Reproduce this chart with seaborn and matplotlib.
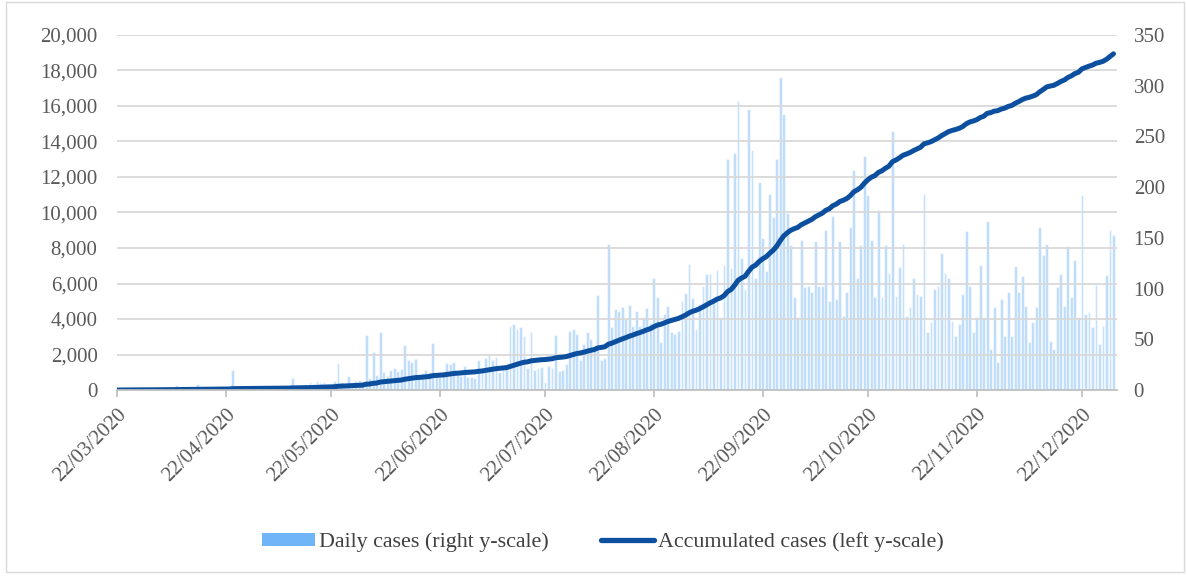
import numpy as np
import pandas as pd
import matplotlib
matplotlib.use("Agg")
import matplotlib.pyplot as plt
from matplotlib.patches import Patch, Rectangle
from matplotlib.lines import Line2D
from matplotlib.ticker import MultipleLocator, FuncFormatter
import seaborn as sns

# daily cases, one value per day (right y-scale)
mar = [0, 1, 0, 1, 0, 2, 1, 0, 2, 1]
apr = [1, 2, 1, 2, 1, 3, 2, 5, 1, 2, 1, 2, 3, 6, 2, 1, 2, 1, 3, 2,
       2, 1, 3, 20, 2, 1, 3, 1, 2, 3]
may = [1, 2, 1, 3, 2, 1, 2, 1, 3, 2, 12, 2, 3, 1, 2, 8, 6, 9, 7, 8,
       6, 4, 9, 27, 8, 6, 14, 7, 9, 10, 8]
jun = [54, 12, 37, 15, 57, 18, 14, 20, 22, 19, 21, 44, 30, 28, 31, 12, 17, 20, 18, 46,
       14, 13, 16, 27, 26, 28, 15, 14, 24, 13]
jul = [13, 12, 30, 18, 32, 35, 30, 33, 18, 20, 22, 63, 65, 60, 62, 53, 22, 57, 20, 22,
       23, 8, 24, 22, 54, 19, 20, 26, 58, 60, 55]
aug = [30, 45, 57, 50, 40, 94, 30, 32, 144, 62, 80, 78, 82, 70, 84, 63, 78, 63, 72, 81,
       66, 110, 92, 47, 75, 83, 57, 55, 58, 88, 96]
sep = [124, 91, 60, 85, 103, 114, 114, 92, 118, 72, 123, 228, 120, 234, 285, 130, 100, 277, 237, 110,
       205, 150, 117, 193, 171, 228, 309, 272, 175, 143]
oct_ = [92, 72, 148, 102, 103, 97, 147, 103, 103, 158, 88, 172, 90, 147, 73, 97, 161, 217, 110, 143,
        231, 192, 148, 92, 177, 92, 143, 115, 255, 93, 121]
nov = [144, 73, 82, 110, 95, 93, 193, 57, 67, 100, 103, 135, 115, 110, 68, 53, 65, 95, 157, 103,
       57, 72, 123, 72, 167, 40, 82, 28, 90, 53]
dec = [97, 53, 122, 97, 112, 83, 47, 67, 82, 161, 133, 144, 48, 40, 102, 114, 83, 142, 92, 128,
       72, 192, 75, 77, 62, 104, 45, 63, 113, 158, 153]

BAR_COLOR = "#74B7F8"
LINE_COLOR = "#0D4F9F"
TEXT_COLOR = "#595959"

dates = pd.date_range("2020-03-22", "2020-12-31", freq="D")
daily = mar + apr + may + jun + jul + aug + sep + oct_ + nov + dec
df = pd.DataFrame({"day": np.arange(len(dates)), "date": dates, "daily": daily})
df["accumulated"] = df["daily"].cumsum()

sns.set_theme(style="white")
plt.rcParams["font.family"] = ["Liberation Serif", "DejaVu Serif"]

fig = plt.figure(figsize=(11.87, 5.76), dpi=100)
ax = fig.add_axes([117 / 1187, 1 - 390 / 576, 1000 / 1187, 355 / 576])
ax2 = ax.twinx()

sns.barplot(data=df, x="day", y="daily", native_scale=True, width=0.8,
            color=BAR_COLOR, saturation=1, alpha=0.5, errorbar=None, ax=ax2)
sns.lineplot(data=df, x="day", y="accumulated", color=LINE_COLOR,
             linewidth=3.6, ax=ax)

# line above the bars
ax.set_zorder(ax2.get_zorder() + 1)
ax.patch.set_visible(False)

ax.set_xlim(0, len(df))
ax.set_ylim(0, 20000)
ax2.set_ylim(0, 350)
ax.yaxis.set_major_locator(MultipleLocator(2000))
ax.yaxis.set_major_formatter(FuncFormatter(lambda v, p: f"{v:,.0f}"))
ax2.yaxis.set_major_locator(MultipleLocator(50))

ticks = df.loc[df["date"].dt.day == 22]
ax.set_xticks(ticks["day"])
ax.set_xticklabels(ticks["date"].dt.strftime("%d/%m/%Y"), rotation=45,
                   ha="right", rotation_mode="anchor")

ax.grid(axis="y", color="#D9D9D9", linewidth=1.3)
ax2.grid(False)
for a in (ax, ax2):
    a.set_xlabel("")
    a.set_ylabel("")
    for s in a.spines.values():
        s.set_visible(False)
ax.spines["bottom"].set_visible(True)
ax.spines["bottom"].set_color("#BFBFBF")

ax.tick_params(axis="x", bottom=True, length=5, color="#BFBFBF", pad=6,
               labelsize=15, labelcolor=TEXT_COLOR)
ax.tick_params(axis="y", length=0, pad=14, labelsize=15, labelcolor=TEXT_COLOR)
ax2.tick_params(axis="y", length=0, pad=12, labelsize=15, labelcolor=TEXT_COLOR)

handles = [Patch(facecolor="#6FB5F7", edgecolor="none"),
           Line2D([0], [0], color=LINE_COLOR, linewidth=3.8)]
fig.legend(handles, ["Daily cases (right y-scale)", "Accumulated cases (left y-scale)"],
           loc="center", bbox_to_anchor=(0.508, 1 - 542 / 576), ncol=2, frameon=False,
           fontsize=15.8, handlelength=2.4, handleheight=0.55, columnspacing=2.4,
           handletextpad=0.2, labelcolor="#404040")

fig.patches.append(Rectangle((6 / 1187, 4 / 576), 1178 / 1187, 570 / 576,
                             transform=fig.transFigure, fill=False,
                             edgecolor="#D9D9D9", linewidth=1))

fig.savefig("out.png", dpi=100)
